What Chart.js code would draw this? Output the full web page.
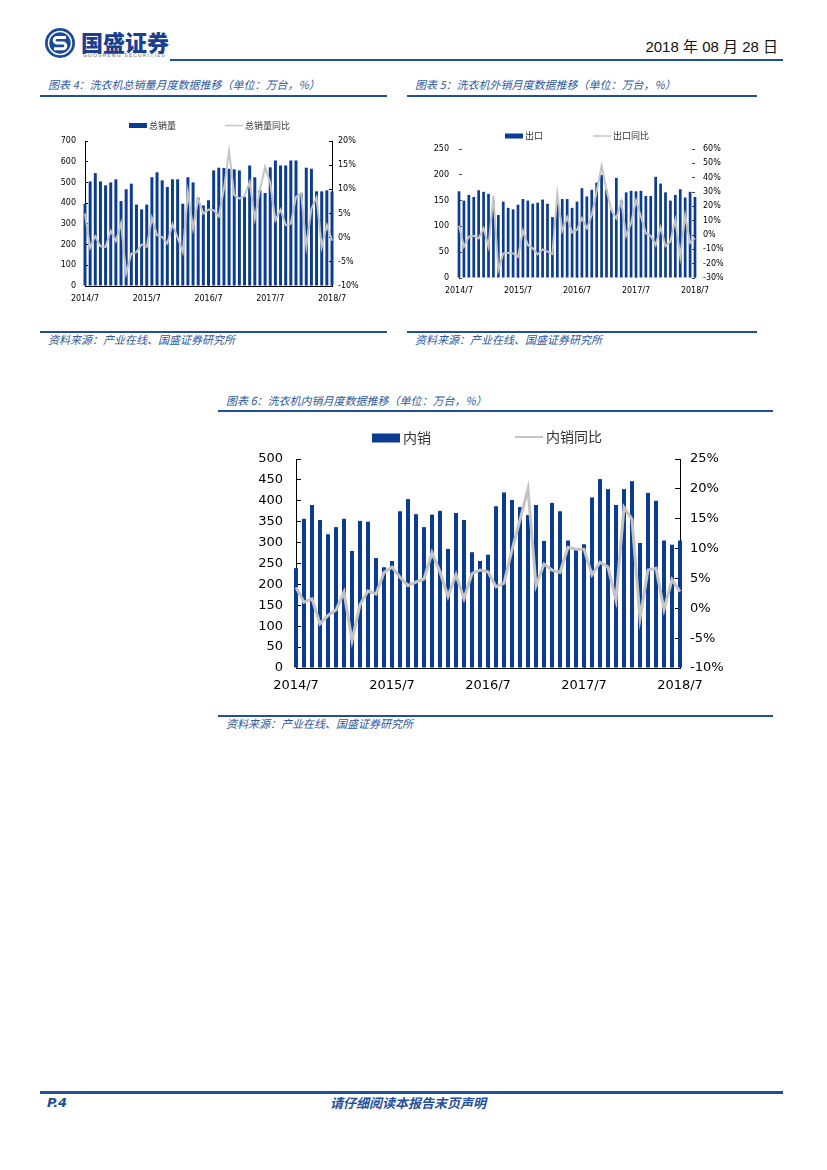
<!DOCTYPE html>
<html>
<head>
<meta charset="utf-8">
<script src="https://cdn.jsdelivr.net/npm/chart.js@4.4.0/dist/chart.umd.min.js"></script>
<style>
body { margin: 0; background: #fff; }
#page { position: relative; width: 827px; height: 1170px; overflow: hidden; font-family: "Noto Sans CJK SC", sans-serif; }
.abs { position: absolute; white-space: nowrap; }
.rule { position: absolute; background: #1f4f9e; }
.cap { position: absolute; font-size: 11px; line-height: 16px; font-style: italic; color: #2b57a3; white-space: nowrap; }
canvas { position: absolute; }
</style>
</head>
<body>
<div id="page">
  <!-- header -->
  <svg class="abs" style="left:44px;top:27px" width="32" height="32" viewBox="0 0 32 32">
    <circle cx="16" cy="16" r="15" fill="#1b4a9c"/>
    <circle cx="16" cy="16" r="11.5" fill="none" stroke="#fff" stroke-width="1.5"/>
    <path d="M22 10.5 H13 a2.8 2.8 0 0 0 0 5.6 H19 a2.8 2.8 0 0 1 0 5.6 H10" fill="none" stroke="#fff" stroke-width="3"/>
  </svg>
  <div class="abs" style="left:81px;top:27px;font-size:22px;line-height:28px;font-weight:900;color:#1a3f8f;">国盛证券</div>
  <div class="abs" style="left:83px;top:52px;font-size:5px;line-height:6px;letter-spacing:1.2px;color:#666;font-family:'DejaVu Sans';">GUOSHENG SECURITIES</div>
  <div class="abs" style="right:49px;top:38px;font-size:15px;line-height:18px;color:#111;font-family:'Liberation Sans','Noto Sans CJK SC';">2018 年 08 月 28 日</div>
  <div class="rule" style="left:170px;top:59px;width:613px;height:2px;"></div>

  <!-- chart 4 / chart 5 frames -->
  <div class="cap" style="left:48px;top:76px;">图表 4：洗衣机总销量月度数据推移（单位：万台，%）</div>
  <div class="rule" style="left:40px;top:95px;width:347px;height:1.5px;"></div>
  <div class="cap" style="left:415px;top:76px;">图表 5：洗衣机外销月度数据推移（单位：万台，%）</div>
  <div class="rule" style="left:407px;top:95px;width:350px;height:1.5px;"></div>

  <canvas id="chartTotal" width="340" height="200" style="left:40px;top:112px;"></canvas>
  <canvas id="chartExport" width="340" height="185" style="left:407px;top:120px;"></canvas>

  <div class="rule" style="left:40px;top:331px;width:347px;height:1.5px;"></div>
  <div class="cap" style="left:48px;top:331px;">资料来源：产业在线、国盛证券研究所</div>
  <div class="rule" style="left:407px;top:331px;width:350px;height:1.5px;"></div>
  <div class="cap" style="left:415px;top:331px;">资料来源：产业在线、国盛证券研究所</div>

  <!-- chart 6 frame -->
  <div class="cap" style="left:226px;top:392px;">图表 6：洗衣机内销月度数据推移（单位：万台，%）</div>
  <div class="rule" style="left:218px;top:410px;width:555px;height:1.5px;"></div>
  <canvas id="chartDomestic" width="560" height="290" style="left:218px;top:420px;"></canvas>
  <div class="rule" style="left:218px;top:715px;width:555px;height:1.5px;"></div>
  <div class="cap" style="left:226px;top:715px;">资料来源：产业在线、国盛证券研究所</div>

  <!-- footer -->
  <div class="rule" style="left:40px;top:1091px;width:743px;height:2.5px;"></div>
  <div class="abs" style="left:47px;top:1094px;font-size:13px;line-height:18px;font-weight:bold;font-style:italic;color:#1f4f9e;font-family:'DejaVu Sans';">P.4</div>
  <div class="abs" style="left:330px;top:1094px;font-size:13px;line-height:18px;font-weight:bold;font-style:italic;color:#1f4f9e;">请仔细阅读本报告末页声明</div>
</div>

<script>
var months = ['2014/7', '2014/8', '2014/9', '2014/10', '2014/11', '2014/12',
    '2015/1', '2015/2', '2015/3', '2015/4', '2015/5', '2015/6', '2015/7', '2015/8', '2015/9', '2015/10', '2015/11', '2015/12',
    '2016/1', '2016/2', '2016/3', '2016/4', '2016/5', '2016/6', '2016/7', '2016/8', '2016/9', '2016/10', '2016/11', '2016/12',
    '2017/1', '2017/2', '2017/3', '2017/4', '2017/5', '2017/6', '2017/7', '2017/8', '2017/9', '2017/10', '2017/11', '2017/12',
    '2018/1', '2018/2', '2018/3', '2018/4', '2018/5', '2018/6', '2018/7'];

// 图表4 总销量 (万台) / 同比 (%)
var totalSales = [397, 505, 545, 505, 486, 500, 515, 410, 467, 494, 393, 370, 393, 525, 549, 510, 478, 515, 515, 397,
    525, 500, 426, 389, 414, 558, 571, 570, 566, 563, 558, 430, 582, 525, 462, 449, 573, 606, 582, 582,
    606, 606, 449, 571, 566, 457, 457, 462, 457];
var totalYoY = [5.0, -2.1, 0.3, -1.8, -1.9, 1.4, -0.7, 3.0, -7.4, -3.3, -3.0, -1.4, -1.9, 4.1, 0.5, 0.1, -1.2, 2.8, 0, -3.0,
    9.4, 1.9, 8.1, 5.0, 5.8, 5.7, 4.4, 10.1, 17.9, 8.8, 8.1, 8.6, 11.5, 3.9, 10.0, 14.6, 11.3, 3.6, 5.8, 2.6,
    2.9, 8.4, 9.2, -1.8, 6.0, 8.3, -1.9, 2.6, -0.6];

// 图表5 出口 (万台) / 同比 (%)
var exportSales = [168, 150, 161, 157, 170, 167, 163, 150, 122, 148, 136, 133, 142, 153, 150, 144, 146, 152, 144, 118,
    145, 153, 153, 136, 148, 174, 158, 171, 185, 200, 171, 132, 194, 150, 166, 169, 168, 169, 159, 159,
    196, 183, 166, 150, 161, 172, 156, 167, 157];
var exportYoY = [6.4, -8.1, -1.1, -0.6, -2.3, 4.7, -8.1, 27.4, -24.5, -12.8, -12.4, -12.8, -15.2, 2.9, -7.0, -9.3, -13.5, -10.0, -11.6, -13.2,
    28.8, 2.9, 12.4, 1.7, 3.6, 11.7, 4.7, 14.0, 30.4, 48.3, 31.6, 17.1, 11.7, 23.4, -0.6, 8.2, 24.1, 12.9, 1.2, -0.6,
    -7.0, 5.4, -7.7, -4.6, 10.5, -15.2, 13.4, -5.4, -2.3];

// 图表6 内销 (万台) / 同比 (%)
var domesticSales = [239, 357, 390, 354, 320, 337, 357, 280, 352, 350, 263, 241, 256, 375, 404, 368, 337, 367, 376, 285,
    371, 354, 277, 256, 271, 387, 420, 402, 385, 366, 390, 304, 395, 375, 305, 285, 296, 408, 452, 428,
    390, 428, 447, 299, 419, 400, 305, 295, 305];
var domesticYoY = [3.5, 1.0, 1.6, -2.6, -1.2, -0.3, 2.7, -5.4, 0.6, 2.9, 2.4, 6.0, 6.9, 5.2, 3.8, 4.4, 4.9, 9.3, 6.1, 2.0,
    5.6, 1.6, 5.8, 6.4, 6.1, 3.6, 4.2, 9.8, 14.8, 20.0, 3.8, 7.4, 6.4, 6.0, 10.2, 9.9, 9.9, 5.6, 7.7, 6.9,
    1.4, 16.9, 14.9, -1.7, 6.4, 6.7, -0.2, 4.8, 2.8];

var BAR_BLUE = '#0a3d91';
var LINE_GREY = '#c4c4c4';

Chart.defaults.font.family = 'DejaVu Sans';
Chart.defaults.color = '#000';

// legend drawn as one row: swatch + label for each dataset
var legendRow = {
    id: 'legendRow',
    afterDraw: function (chart, args, opts) {
        var ctx = chart.ctx;
        ctx.save();
        ctx.font = opts.fontSize + 'px "Noto Sans CJK SC"';
        ctx.textBaseline = 'middle';
        opts.items.forEach(function (it) {
            var ds = chart.data.datasets[it.dataset];
            if (ds.type === 'bar') {
                ctx.fillStyle = ds.backgroundColor;
                ctx.fillRect(it.x, it.y - opts.boxH / 2, opts.boxW, opts.boxH);
            } else {
                ctx.strokeStyle = ds.borderColor;
                ctx.lineWidth = opts.lineW;
                ctx.beginPath();
                ctx.moveTo(it.x, it.y);
                ctx.lineTo(it.x + opts.boxW, it.y);
                ctx.stroke();
            }
            ctx.fillStyle = '#333';
            ctx.fillText(ds.label, it.x + opts.boxW + opts.gap, it.y);
        });
        ctx.restore();
    }
};

function makeChart(id, barLabel, bars, lineLabel, line, o) {
    return new Chart(document.getElementById(id), {
        type: 'bar',
        data: {
            labels: months,
            datasets: [{
                type: 'line',
                label: lineLabel,
                data: line,
                yAxisID: 'y1',
                borderColor: LINE_GREY,
                borderWidth: o.lineWidth,
                pointRadius: 0,
                tension: 0,
                order: 0
            }, {
                type: 'bar',
                label: barLabel,
                data: bars,
                yAxisID: 'y',
                backgroundColor: BAR_BLUE,
                barPercentage: o.barPct,
                categoryPercentage: 1,
                clip: false,   // edge bars are shown whole in the original
                order: 1
            }]
        },
        options: {
            responsive: false,
            animation: false,
            devicePixelRatio: 1,
            layout: { padding: { top: o.padTop, left: 0, right: 0, bottom: 0 } },
            plugins: {
                legend: { display: false },
                tooltip: { enabled: false },
                legendRow: o.legend
            },
            scales: {
                x: {
                    offset: false,
                    grid: { offset: false, drawOnChartArea: false, tickLength: -o.tick, color: o.tickColor },
                    border: { display: o.border, color: '#000' },
                    ticks: {
                        autoSkip: false, maxRotation: 0, minRotation: 0, padding: o.xPad,
                        font: { size: o.fontSize },
                        callback: function (v, i) { return i % 12 === 0 ? months[i] : null; }
                    },
                    afterFit: function (s) { s.height = o.xH; }
                },
                y: {
                    position: 'left', min: 0, max: o.yMax,
                    grid: { drawOnChartArea: false, tickLength: -o.tick, color: o.tickColor },
                    border: { display: o.border, color: '#000' },
                    ticks: { stepSize: o.yStep, padding: o.yPad, font: { size: o.fontSize } },
                    afterFit: function (s) { s.width = o.yW; }
                },
                y1: {
                    position: 'right', min: o.pMin, max: o.pMax,
                    grid: { drawOnChartArea: false, tickLength: -o.tick, color: o.tickColor },
                    border: { display: o.border, color: '#000' },
                    ticks: {
                        stepSize: o.pStep, padding: o.pPad, font: { size: o.fontSize },
                        callback: function (v) { return v + '%'; }
                    },
                    afterFit: function (s) { s.width = o.pW; }
                }
            }
        },
        plugins: [legendRow]
    });
}

// 图表4
makeChart('chartTotal', '总销量', totalSales, '总销量同比', totalYoY, {
    barPct: 0.58, lineWidth: 2, padTop: 29, xH: 26, yW: 45, pW: 48,
    tick: 3, tickColor: '#000', border: true, fontSize: 8,
    xPad: 11, yPad: 12, pPad: 9,
    yMax: 700, yStep: 100, pMin: -10, pMax: 20, pStep: 5,
    legend: { fontSize: 9, boxW: 18, boxH: 5, lineW: 1.5, gap: 2,
        items: [{ dataset: 1, x: 89, y: 13.5 }, { dataset: 0, x: 185, y: 13.5 }] }
});

// 图表5
makeChart('chartExport', '出口', exportSales, '出口同比', exportYoY, {
    barPct: 0.55, lineWidth: 2, padTop: 29, xH: 27, yW: 52, pW: 52,
    tick: 3, tickColor: '#444', border: false, fontSize: 8,
    xPad: 11, yPad: 13, pPad: 11,
    yMax: 250, yStep: 50, pMin: -30, pMax: 60, pStep: 10,
    legend: { fontSize: 9, boxW: 18, boxH: 5, lineW: 1.5, gap: 2,
        items: [{ dataset: 1, x: 98, y: 16 }, { dataset: 0, x: 186, y: 16 }] }
});

// 图表6
makeChart('chartDomestic', '内销', domesticSales, '内销同比', domesticYoY, {
    barPct: 0.5, lineWidth: 3, padTop: 39, xH: 42, yW: 78, pW: 98,
    tick: 5, tickColor: '#000', border: true, fontSize: 13,
    xPad: 15, yPad: 18, pPad: 15,
    yMax: 500, yStep: 50, pMin: -10, pMax: 25, pStep: 5,
    legend: { fontSize: 14, boxW: 28, boxH: 9, lineW: 2, gap: 3,
        items: [{ dataset: 1, x: 154, y: 18 }, { dataset: 0, x: 297, y: 17 }] }
});
</script>
</body>
</html>
